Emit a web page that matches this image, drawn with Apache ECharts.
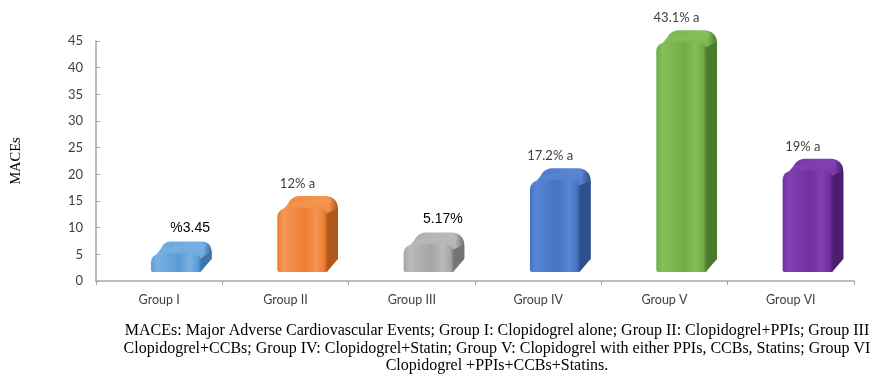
<!DOCTYPE html>
<html>
<head>
<meta charset="utf-8">
<style>
  html, body { margin: 0; padding: 0; background: #ffffff; }
  #chart { width: 874px; height: 385px; }
</style>
<script src="https://cdn.jsdelivr.net/npm/echarts@6/dist/echarts.min.js"></script>
</head>
<body>
<div id="chart"></div>
<script>
// Study groups and their MACE rates (%)
const groups = ['Group I', 'Group II', 'Group III', 'Group IV', 'Group V', 'Group VI'];
const maceRates = [3.45, 12, 5.17, 17.2, 43.1, 19];
const rateLabels = ['%3.45', '12% a', '5.17%', '17.2% a', '43.1% a', '19% a'];
const yTicks = { min: 0, max: 45, step: 5 };

const captionLines = [
  'MACEs: Major Adverse Cardiovascular Events; Group I: Clopidogrel alone; Group II: Clopidogrel+PPIs; Group III',
  'Clopidogrel+CCBs; Group IV: Clopidogrel+Statin; Group V: Clopidogrel with either PPIs, CCBs, Statins; Group VI',
  'Clopidogrel +PPIs+CCBs+Statins.'
];

// Face colours per bar: [front, lighter highlight, top, side]
const palette = [
  ['#5B9BD5', '#79B0E2', '#6AA6DC', '#3B74A8'],
  ['#ED7D31', '#F39752', '#F08A40', '#B0571C'],
  ['#A5A5A5', '#BBBBBB', '#B0B0B0', '#747474'],
  ['#4472C4', '#5A86D4', '#4E7CCC', '#2D4F8C'],
  ['#70AD47', '#84C05A', '#7BB650', '#4B7A2D'],
  ['#7030A0', '#8240B3', '#7A38AA', '#4B1D6E']
];
// Labels drawn in the larger black face
const boldLabelIdx = new Set([0, 2]);

const chart = echarts.init(document.getElementById('chart'), null, { renderer: 'canvas' });

function renderBar(params, api) {
  const i = api.value(0);
  const v = api.value(1);
  const base = api.coord([i, 0]);
  const top = api.coord([i, v]);
  const band = api.size([1, 0])[0];
  const c = palette[i];

  const lift = 9;                 // front face sits above the floor line
  const dx = band * 0.08;         // depth to the right
  const dy = 12;                  // depth upward
  const fl = base[0] - band * 0.065;
  const fw = band * 0.40;
  const fr = fl + fw;
  const fb = base[1] - lift;
  const ft = top[1] - lift;
  const fh = fb - ft;
  const r = Math.min(9, fh / 2);
  const rb = Math.min(12, fh / 2);

  const children = [];
  // back face (shows as the rounded top cap)
  children.push({
    type: 'rect',
    shape: { x: fl + dx, y: ft - dy, width: fw, height: fh, r: [rb, rb, 2, 2] },
    style: {
      fill: new echarts.graphic.LinearGradient(0, 0, 1, 0, [
        { offset: 0, color: c[2] }, { offset: 0.8, color: c[1] }, { offset: 1, color: c[3] }
      ])
    }
  });
  // top face joining front and back
  children.push({
    type: 'polygon',
    shape: { points: [[fl + 1, ft + r * 0.8], [fl + dx + 1, ft - dy + rb * 0.6], [fr + dx - rb * 0.6, ft - dy + rb * 0.3], [fr, ft + r * 0.6]] },
    style: {
      fill: new echarts.graphic.LinearGradient(0, 0, 0, 1, [
        { offset: 0, color: c[1] }, { offset: 1, color: c[2] }
      ])
    }
  });
  // right side face
  children.push({
    type: 'polygon',
    shape: { points: [[fr - 1, ft + r * 0.6], [fr + dx, ft - dy + rb], [fr + dx, fb - dy - 1], [fr - 1, fb]] },
    style: { fill: c[3] }
  });
  // front face
  children.push({
    type: 'rect',
    shape: { x: fl, y: ft, width: fw, height: fh, r: [r, r, 2, 2] },
    style: {
      fill: new echarts.graphic.LinearGradient(0, 0, 1, 0, [
        { offset: 0, color: c[0] },
        { offset: 0.12, color: c[1] },
        { offset: 0.55, color: c[0] },
        { offset: 0.78, color: c[1] },
        { offset: 0.93, color: c[0] },
        { offset: 1, color: c[3] }
      ])
    }
  });
  // value label above the cap
  const bold = boldLabelIdx.has(i);
  children.push({
    type: 'text',
    style: {
      text: rateLabels[i],
      x: base[0] + (bold ? 31 : 12),
      y: ft - dy - (bold ? 13 : 12),
      align: 'center',
      verticalAlign: 'middle',
      fill: bold ? '#000000' : '#404040',
      fontSize: bold ? 14 : 13,
      fontFamily: bold ? 'Liberation Sans' : 'Lato'
    }
  });
  return { type: 'group', children };
}

const option = {
  backgroundColor: '#ffffff',
  animation: false,
  grid: { left: 96, right: 20, top: 41, bottom: 104 },
  xAxis: {
    type: 'category',
    data: groups,
    boundaryGap: true,
    axisLine: { lineStyle: { color: '#A6A6A6', width: 1.5 } },
    axisTick: { show: true, inside: false, length: 4, lineStyle: { color: '#A6A6A6' } },
    axisLabel: { color: '#404040', fontFamily: 'Lato', fontSize: 12.5, margin: 12 }
  },
  yAxis: {
    type: 'value',
    min: yTicks.min,
    max: yTicks.max,
    interval: yTicks.step,
    name: 'MACEs',
    nameLocation: 'middle',
    nameGap: 72,
    nameRotate: 90,
    nameTextStyle: { color: '#000000', fontFamily: 'Liberation Serif', fontSize: 14.5 },
    axisLine: { show: true, lineStyle: { color: '#A6A6A6', width: 1.5 } },
    axisTick: { show: true, inside: true, length: 4, lineStyle: { color: '#A6A6A6' } },
    splitLine: { show: false },
    axisLabel: { color: '#404040', fontFamily: 'Lato', fontSize: 13, margin: 13 }
  },
  series: [{
    type: 'custom',
    renderItem: renderBar,
    data: maceRates.map((v, i) => [i, v]),
    encode: { x: 0, y: 1 },
    clip: false
  }],
  graphic: captionLines.map((line, k) => ({
    type: 'text',
    x: 497,
    y: 331 + k * 17.5,
    style: {
      text: line,
      align: 'center',
      verticalAlign: 'middle',
      fill: '#000000',
      fontFamily: 'Liberation Serif',
      fontSize: 16
    },
    silent: true
  }))
};

chart.setOption(option);
</script>
</body>
</html>
